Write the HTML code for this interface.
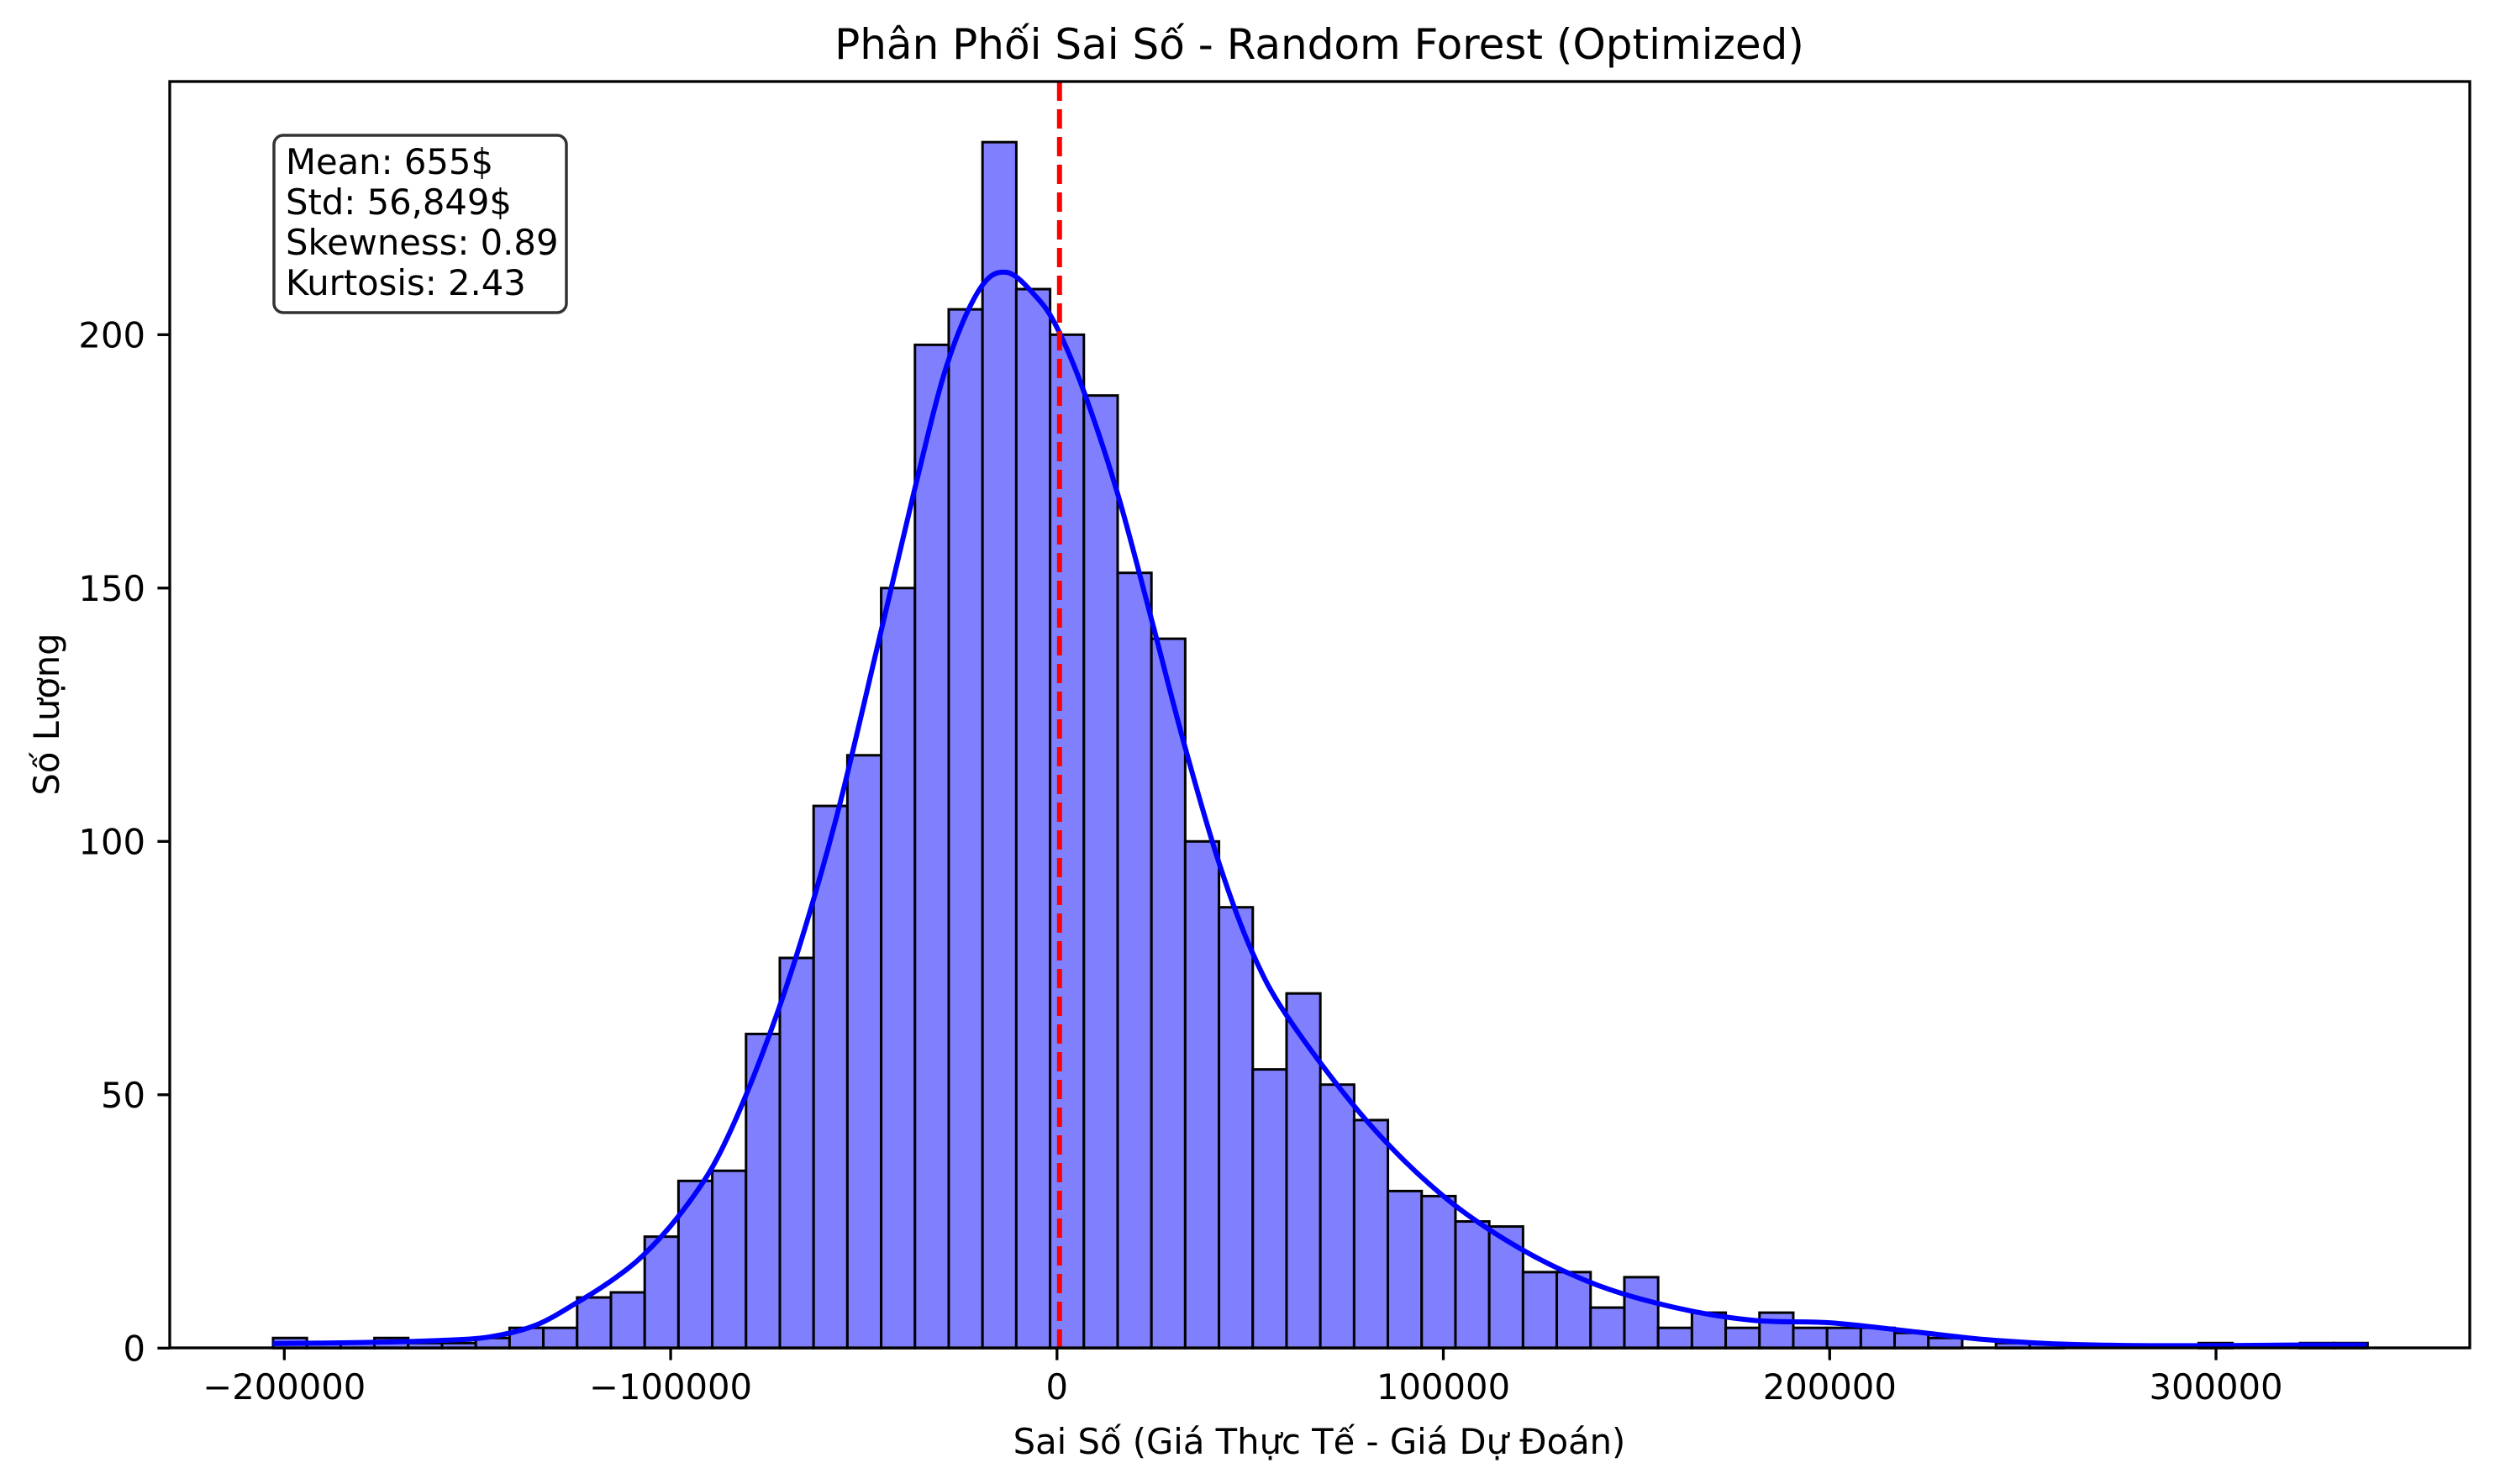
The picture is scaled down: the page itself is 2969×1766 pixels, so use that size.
<!DOCTYPE html>
<html><head><meta charset="utf-8">
<style>
html,body{margin:0;padding:0;background:#fff;}
svg{display:block;}
text{font-family:"DejaVu Sans","Liberation Sans",sans-serif;fill:#000;}
</style></head>
<body>
<svg id="chart" width="2969" height="1766" viewBox="0 0 2969 1766" xmlns="http://www.w3.org/2000/svg">
<rect x="0" y="0" width="2969" height="1766" fill="#fff"/>
<g id="bars"></g>
<g id="kde"></g>
<g id="meanline"></g>
<g id="axes"></g>
<text x="1570" y="70" font-size="50" text-anchor="middle">Phân Phối Sai Số - Random Forest (Optimized)</text>
<text x="1570" y="1730" font-size="41.7" text-anchor="middle">Sai Số (Giá Thực Tế - Giá Dự Đoán)</text>
<text transform="translate(70,850) rotate(-90)" font-size="41.7" text-anchor="middle">Số Lượng</text>
<g>
<rect x="326" y="161" width="348" height="211" rx="11" ry="11" fill="#fff" stroke="#333" stroke-width="3.5"/>
<text x="340" y="207" font-size="41.7">Mean: 655$</text>
<text x="340" y="255" font-size="41.7">Std: 56,849$</text>
<text x="340" y="303" font-size="41.7">Skewness: 0.89</text>
<text x="340" y="351" font-size="41.7">Kurtosis: 2.43</text>
</g>
</svg>
<script>
const binStart = -202900;
const binWidth = 8744;
const counts = [2,1,1,2,1,1,2,4,4,10,11,22,33,35,62,77,107,117,150,198,205,238,209,200,188,153,140,100,87,55,70,52,45,31,30,25,24,15,15,8,14,4,7,4,7,4,4,4,3,2,0,1,1,0,0,0,0,1,0,0,1,1];
const kdeX = [-203000,-180000,-160000,-147000,-135000,-124000,-115000,-107000,-98000,-89000,-81000,-72000,-64000,-56000,-46000,-37000,-28500,-20000,-13000,-5400,0,7000,15700,24400,33000,42000,50500,60000,80000,100000,120000,140000,160000,180000,200000,220000,240000,260000,280000,300000,320000,339000];
const kdeY = [0.9,1.1,1.5,2.2,4.5,9.1,13.5,18.4,26,36,49,67,86,108,140,169,194,209,212.3,207.5,201.4,188.7,168.6,144,119,95.6,78.2,65,45,30,19.6,12.4,8,5.5,5,3.4,1.7,0.8,0.5,0.5,0.6,0.6];
const xTicks = [-200000,-100000,0,100000,200000,300000];
const xTickLabels = ["\u2212200000","\u2212100000","0","100000","200000","300000"];
const yTicks = [0,50,100,150,200];
const yTickLabels = ["0","50","100","150","200"];
const meanValue = 655;

const NS = "http://www.w3.org/2000/svg";
const axL = 202, axR = 2939, axT = 97, axB = 1604;
function xs(v){ return 1257.8 + v * 4.5974e-3; }
function ys(v){ return 1604.3 - v * 6.03; }
function mk(tag, attrs, parent){
  const e = document.createElementNS(NS, tag);
  for (const k in attrs) e.setAttribute(k, attrs[k]);
  parent.appendChild(e);
  return e;
}

const barsG = document.getElementById('bars');
counts.forEach((c, i) => {
  if (c <= 0) return;
  const x0 = xs(binStart + i * binWidth), x1 = xs(binStart + (i + 1) * binWidth);
  const r = mk('rect', {x: x0, y: ys(c), width: x1 - x0, height: ys(0) - ys(c), fill: '#8080ff', stroke: '#000', 'stroke-width': 3}, barsG);
  
  
});

const pts = kdeX.map((v, i) => [xs(v), ys(kdeY[i])]);
let d = 'M' + pts[0][0] + ',' + pts[0][1];
for (let i = 0; i < pts.length - 1; i++) {
  const p0 = pts[Math.max(0, i - 1)], p1 = pts[i], p2 = pts[i + 1], p3 = pts[Math.min(pts.length - 1, i + 2)];
  const c1x = p1[0] + (p2[0] - p0[0]) / 6, c1y = p1[1] + (p2[1] - p0[1]) / 6;
  const c2x = p2[0] - (p3[0] - p1[0]) / 6, c2y = p2[1] - (p3[1] - p1[1]) / 6;
  d += ' C' + c1x + ',' + c1y + ' ' + c2x + ',' + c2y + ' ' + p2[0] + ',' + p2[1];
}
const kdePath = mk('path', {d: d, fill: 'none', stroke: '#0000ff', 'stroke-width': 6, 'stroke-linejoin': 'round', 'stroke-linecap': 'butt'}, document.getElementById('kde'));



const ml = mk('line', {x1: xs(meanValue), x2: xs(meanValue), y1: axT, y2: axB, stroke: '#ff0000', 'stroke-width': 6, 'stroke-dasharray': '23,10'}, document.getElementById('meanline'));



const axG = document.getElementById('axes');
const frame = mk('rect', {x: axL, y: axT, width: axR - axL, height: axB - axT, fill: 'none', stroke: '#000', 'stroke-width': 3.3}, axG);



xTicks.forEach((v, i) => {
  const x = xs(v);
  const t = mk('line', {x1: x, x2: x, y1: axB, y2: axB + 14.6, stroke: '#000', 'stroke-width': 3.3}, axG);
  
  
  const l = mk('text', {x: x, y: 1665, 'font-size': 41.7, 'text-anchor': 'middle'}, axG);
  l.textContent = xTickLabels[i];
  
  
});
yTicks.forEach((v, i) => {
  const y = ys(v);
  const t = mk('line', {x1: axL - 14.6, x2: axL, y1: y, y2: y, stroke: '#000', 'stroke-width': 3.3}, axG);
  
  
  const l = mk('text', {x: axL - 29, y: y + 15, 'font-size': 41.7, 'text-anchor': 'end'}, axG);
  l.textContent = yTickLabels[i];
  
  
});
</script>
</body></html>
